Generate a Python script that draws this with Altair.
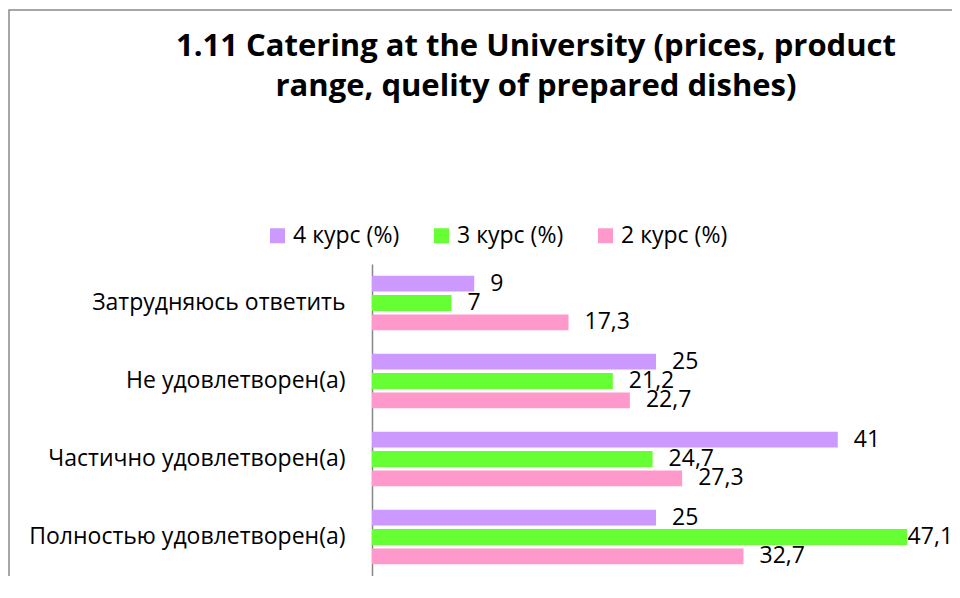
import altair as alt
import pandas as pd

categories = ["Затрудняюсь ответить", "Не удовлетворен(а)", "Частично удовлетворен(а)", "Полностью удовлетворен(а)"]
series = ["4 курс (%)", "3 курс (%)", "2 курс (%)"]
colors = ["#CC99FF", "#66FF33", "#FF99CC"]
vals_4 = [9, 25, 41, 25]
vals_3 = [7, 21.2, 24.7, 47.1]
vals_2 = [17.3, 22.7, 27.3, 32.7]

def fmt(v):
    s = ("%g" % v)
    return s.replace(".", ",")

rows = []
for s, vals in zip(series, [vals_4, vals_3, vals_2]):
    for c, v in zip(categories, vals):
        rows.append({"category": c, "series": s, "value": v, "label": fmt(v)})
df = pd.DataFrame(rows)

LABEL_FONT = "Open Sans"
TITLE_FONT = "Open Sans"
X_MAX = 50

y_enc = alt.Y("category:N", sort=categories,
              scale=alt.Scale(paddingInner=0.3, paddingOuter=0.15),
              axis=alt.Axis(title=None, ticks=False, labelPadding=27, labelFontSize=23,
                            labelFont=LABEL_FONT, labelColor="#000000", labelLimit=0,
                            domainColor="#868686", domainWidth=1.5, grid=False))
yoff = alt.YOffset("series:N", sort=series, scale=alt.Scale(paddingInner=0.18))
x_scale = alt.Scale(domain=[0, X_MAX])

base = alt.Chart(df)
bars = base.mark_bar().encode(
    y=y_enc, yOffset=yoff, x=alt.X("value:Q", scale=x_scale, axis=None),
    color=alt.Color("series:N", sort=series,
                    scale=alt.Scale(domain=series, range=colors),
                    legend=alt.Legend(title=None, orient="none", direction="horizontal",
                                      legendX=-106, legendY=-40,
                                      symbolType="square", symbolSize=225, symbolStrokeWidth=0,
                                      labelFontSize=23, labelFont=LABEL_FONT, labelColor="#000000",
                                      labelOffset=4, columnPadding=30, padding=0))
)
# label placed just right of the bar end; the longest one is pulled in to stay inside the chart
text = base.transform_calculate(
    pos="min(datum.value + 1.41, 47.15)"
).mark_text(align="left", baseline="middle", fontSize=23,
            font=LABEL_FONT, color="#000000").encode(
    y=alt.Y("category:N", sort=categories), yOffset=alt.YOffset("series:N", sort=series),
    x=alt.X("pos:Q", scale=x_scale, axis=None), text="label:N")

frame = alt.Chart(pd.DataFrame({"k": [0]})).mark_rect(filled=False, stroke="#898989", strokeWidth=1.5).encode(
    x=alt.value(-363), x2=alt.value(700), y=alt.value(-254), y2=alt.value(500))

chart = alt.layer(frame, bars, text).properties(
    width=568, height=312,
    padding={"left": 364, "top": 256, "right": 12, "bottom": 0},
    autosize=alt.AutoSizeParams(type="none"),
    title=alt.TitleParams(["1.11 Catering at the University (prices, product",
                           "range, quelity of prepared dishes)"],
                          anchor="middle", frame="group", dx=-120, fontSize=31,
                          font=TITLE_FONT, fontWeight="bold", color="#000000",
                          lineHeight=40, offset=0, baseline="alphabetic", dy=118)
).configure_view(stroke=None)

chart.save("out.html", embed_options={"renderer": "svg", "actions": False})
